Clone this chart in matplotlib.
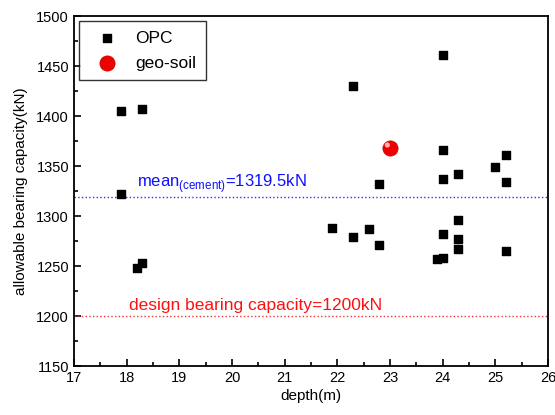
import numpy as np
import matplotlib
matplotlib.use('Agg')
import matplotlib.pyplot as plt
from matplotlib.ticker import MultipleLocator

plt.rcParams['font.family'] = ['Liberation Sans', 'DejaVu Sans']

opc_depth = [17.9, 18.3, 17.9, 18.2, 18.3, 22.3, 24.0, 24.0, 24.0, 22.8, 24.3, 25.0,
             25.2, 25.2, 21.9, 22.3, 22.6, 22.8, 24.0, 24.3, 24.3, 24.3, 23.9, 24.0, 25.2]
opc_cap = [1405, 1407, 1322, 1248, 1253, 1430, 1461, 1366, 1337, 1332, 1342, 1349,
           1361, 1334, 1288, 1279, 1287, 1271, 1282, 1296, 1277, 1267, 1257, 1258, 1265]

geo_depth = [23.0]
geo_cap = [1368]

mean_cement = 1319.5
design_cap = 1200

fig = plt.figure(figsize=(5.55, 4.15), dpi=100)
ax = fig.add_axes([0.1333, 0.118, 0.854, 0.8434])

ax.scatter(opc_depth, opc_cap, marker='s', s=34, c='k', label='OPC', zorder=3)
ax.scatter(geo_depth, geo_cap, marker='o', s=120, c='#ee0000', edgecolors='#cc0000',
           linewidths=0.5, label='geo-soil', zorder=3)
# little highlight to fake the shaded sphere
ax.scatter(np.array(geo_depth) - 0.05, np.array(geo_cap) + 3, marker='o', s=14,
           c='#ffb0b0', edgecolors='none', zorder=4)

ax.axhline(mean_cement, color='#3333ee', linestyle=':', linewidth=1)
ax.axhline(design_cap, color='#ee3333', linestyle=':', linewidth=1)

ax.text(18.2, mean_cement + 10, r'mean$_{\mathregular{(cement)}}$=1319.5kN',
        color='#1010ff', fontsize=12)
ax.text(18.05, design_cap + 6, 'design bearing capacity=1200kN',
        color='#ff1010', fontsize=12.5)

ax.set_xlim(17, 26)
ax.set_ylim(1150, 1500)
ax.xaxis.set_major_locator(MultipleLocator(1))
ax.xaxis.set_minor_locator(MultipleLocator(0.5))
ax.yaxis.set_major_locator(MultipleLocator(50))
ax.yaxis.set_minor_locator(MultipleLocator(25))
ax.tick_params(which='both', direction='in', labelsize=10.5)
ax.tick_params(which='major', length=5, width=1.2)
ax.tick_params(which='minor', length=3, width=1.2)
for sp in ax.spines.values():
    sp.set_linewidth(1.3)

ax.set_xlabel('depth(m)', fontsize=11, labelpad=3)
ax.set_ylabel('allowable bearing capacity(kN)', fontsize=11, labelpad=6)

leg = ax.legend(loc='upper left', fontsize=12.5, frameon=True, fancybox=False,
                edgecolor='k', borderaxespad=0.3, handletextpad=0.6, handlelength=2.1,
                scatterpoints=1, borderpad=0.55, labelspacing=0.55)
leg.get_frame().set_linewidth(1)

fig.savefig('out.png', dpi=100)
